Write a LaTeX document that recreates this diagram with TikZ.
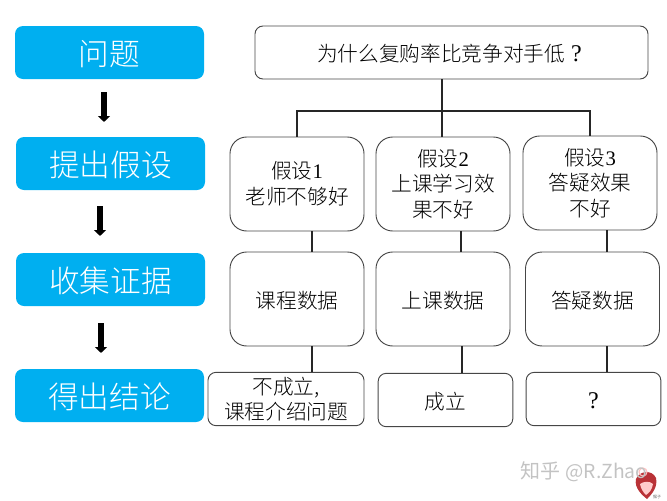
\documentclass[tikz,border=0pt]{standalone}
\usepackage{fontspec}
\setmainfont{Liberation Serif}
\newfontfamily\cjk{Noto Sans CJK SC Light}
\newfontfamily\cjksf{Noto Sans CJK SC}
\usetikzlibrary{arrows.meta,positioning}
\definecolor{stepblue}{RGB}{0,175,240}
\definecolor{edgegray}{RGB}{70,70,70}
\definecolor{markgray}{RGB}{195,195,195}
\definecolor{monkeyred}{RGB}{185,50,55}
\tikzset{
  stepbox/.style={fill=stepblue,rounded corners=8*0.75pt,minimum width=141.75pt,minimum height=39.75pt,inner sep=0pt,text=white,font=\cjk\fontsize{23}{26}\selectfont,execute at begin node={\rule{0pt}{.93em}}},
  wordbox/.style={draw=edgegray,line width=.7pt,inner sep=0pt,align=center,font=\cjk\fontsize{15.5}{19.2}\selectfont,execute at begin node={\rule{0pt}{.98em}}},
  lowered/.style={execute at begin node={\rule{0pt}{1.15em}}},
  bigbox/.style={wordbox,rounded corners=12.5pt,minimum width=100.5pt,minimum height=70.5pt},
  smallbox/.style={wordbox,rounded corners=6pt,minimum height=40pt},
  blockarrow/.style={line width=5pt,-{Triangle[width=8.8pt,length=4.5pt]}},
  link/.style={line width=.8pt,black!85},
}
\newcommand{\num}[1]{{\rmfamily #1}}
\newcommand{\ask}{{\rmfamily\fontsize{18}{18}\selectfont ?}}
\begin{document}
\begin{tikzpicture}[x=.75pt,y=-.75pt,>=stealth]
  \useasboundingbox (0,0) rectangle (667,500);
  % left column
  \node[stepbox] (ask) at (109.5,52.5) {问题};
  \node[stepbox] (guess) at (110.5,163.5) {提出假设};
  \node[stepbox] (collect) at (110.5,279.5) {收集证据};
  \node[stepbox] (result) at (109.5,395.5) {得出结论};
  \coordinate (a1) at (104,92);
  \coordinate (a2) at (104,122);
  \coordinate (b1) at (100,206);
  \coordinate (b2) at (100,236);
  \coordinate (c1) at (101,323);
  \coordinate (c2) at (101,353);
  \draw[blockarrow] (a1)--(a2);
  \draw[blockarrow] (b1)--(b2);
  \draw[blockarrow] (c1)--(c2);
  % question
  \node[wordbox,rounded corners=6pt,minimum width=294.75pt,minimum height=39.75pt] (why) at (451.5,52.5) {为什么复购率比竞争对手低\kern4.5pt\ask\kern3pt};
  % guesses
  \node[bigbox,lowered] (hypa) at (297,184) {假设\num{1}\\老师不够好};
  \node[bigbox,lowered] (hypb) at (443,184) {假设\num{2}\\上课学习效\\果不好};
  \node[bigbox,lowered] (hypc) at (590,183) {假设\num{3}\\答疑效果\\不好};
  % data
  \node[bigbox] (dataa) at (297,299) {课程数据};
  \node[bigbox] (datab) at (443,299) {上课数据};
  \node[bigbox] (datac) at (592.5,299) {答疑数据};
  % answers
  \node[smallbox,lowered,minimum width=117pt,font=\cjk\fontsize{15.5}{18.4}\selectfont] (resa) at (286,399) {不成立,\\课程介绍问题};
  \node[smallbox,minimum width=101pt] (resb) at (445.5,400) {成立};
  \node[smallbox,minimum width=101pt] (resc) at (593.5,399) {\ask};
  % links
  \coordinate (bus) at (442,111);
  \coordinate (xa) at (312,0);
  \coordinate (xb) at (461,0);
  \coordinate (xbb) at (462,0);
  \coordinate (xc) at (607,0);
  \draw[link] (why.south -| bus)--(hypb.north -| bus);
  \draw[link] (hypa.north) |- (bus) -| (hypc.north);
  \draw[link] (hypa.south -| xa)--(dataa.north -| xa);
  \draw[link] (hypb.south -| xb)--(datab.north -| xb);
  \draw[link] (hypc.south -| xc)--(datac.north -| xc);
  \draw[link] (dataa.south -| xa)--(resa.north -| xa);
  \draw[link] (datab.south -| xbb)--(resb.north -| xbb);
  \draw[link] (datac.south -| xc)--(resc.north -| xc);
  % watermark
  \fill[monkeyred] (636,479) .. controls (639,471) and (652,469) .. (656,478) .. controls (658,487) and (652,494) .. (647,499) .. controls (642,495) and (634,488) .. (636,479);
  \fill[white!80!red] (640,484) .. controls (644,481) and (650,481) .. (653,484) .. controls (652,490) and (649,493) .. (646,495) .. controls (643,492) and (641,489) .. (640,484);
  \draw[white!75!red,line width=.8pt] (643,472) circle (4);
  \node[text=markgray,font=\cjksf\fontsize{15}{18}\selectfont,inner sep=0pt,anchor=west] (mark) at (520,472) {知乎\kern4pt{\fontsize{14.5}{18}\selectfont @R.Zhao}};
  \node[text=black!60,font=\cjksf\fontsize{3}{3}\selectfont,inner sep=0pt] (monkey) at (657,497) {猴子};
\end{tikzpicture}
\end{document}
